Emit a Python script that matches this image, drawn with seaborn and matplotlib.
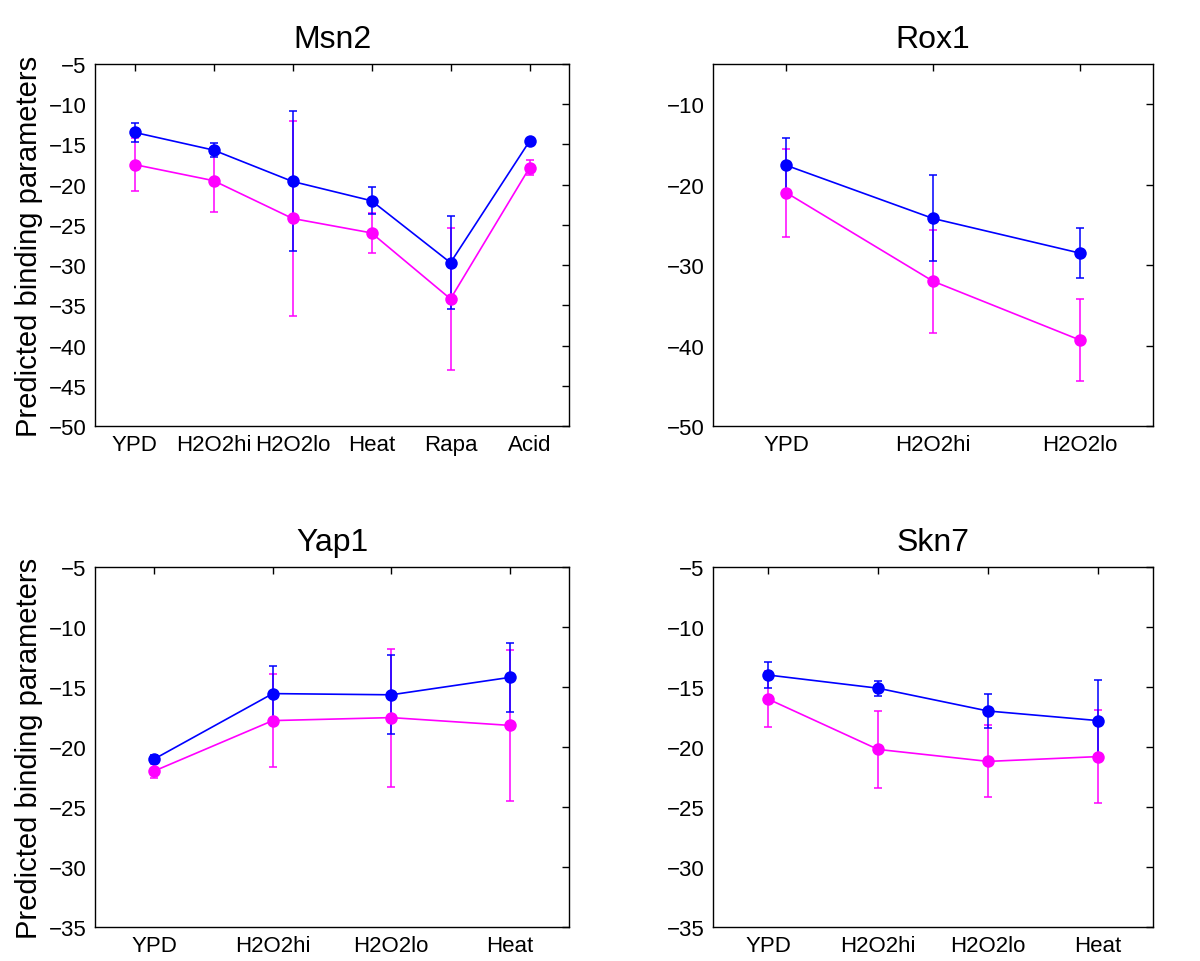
import numpy as np
import pandas as pd
import matplotlib
matplotlib.use("Agg")
import matplotlib.pyplot as plt
import seaborn as sns

sns.set_theme(style="white")
plt.rcParams['font.family'] = ['Liberation Sans', 'DejaVu Sans']
plt.rcParams['text.color'] = 'black'
plt.rcParams['axes.labelcolor'] = 'black'

# ---- data ----
msn2_labels = ["YPD", "H2O2hi", "H2O2lo", "Heat", "Rapa", "Acid"]
msn2_blue = [-13.5, -15.7, -19.6, -22.0, -29.7, -14.6]
msn2_blue_err = [1.15, 0.85, 8.7, 1.7, 5.8, 0.2]
msn2_pink = [-17.5, -19.5, -24.2, -26.0, -34.2, -17.9]
msn2_pink_err = [3.3, 3.9, 12.1, 2.45, 8.8, 0.95]

rox1_labels = ["YPD", "H2O2hi", "H2O2lo"]
rox1_blue = [-17.6, -24.2, -28.5]
rox1_blue_err = [3.4, 5.35, 3.1]
rox1_pink = [-21.0, -32.0, -39.3]
rox1_pink_err = [5.45, 6.4, 5.1]

yap1_labels = ["YPD", "H2O2hi", "H2O2lo", "Heat"]
yap1_blue = [-21.0, -15.55, -15.65, -14.2]
yap1_blue_err = [0.3, 2.28, 3.3, 2.9]
yap1_pink = [-22.0, -17.8, -17.55, -18.2]
yap1_pink_err = [0.55, 3.9, 5.75, 6.3]

skn7_labels = ["YPD", "H2O2hi", "H2O2lo", "Heat"]
skn7_blue = [-14.0, -15.1, -17.0, -17.8]
skn7_blue_err = [1.1, 0.62, 1.4, 3.35]
skn7_pink = [-16.0, -20.2, -21.2, -20.8]
skn7_pink_err = [2.3, 3.2, 3.0, 3.85]

titles = ["Msn2", "Rox1", "Yap1", "Skn7"]
ylims = [(-50, -5), (-50, -5), (-35, -5), (-35, -5)]
yticks = [np.arange(-50, -4, 5), np.arange(-50, -4, 10), np.arange(-35, -4, 5), np.arange(-35, -4, 5)]

panels = [
    (msn2_labels, msn2_blue, msn2_blue_err, msn2_pink, msn2_pink_err),
    (rox1_labels, rox1_blue, rox1_blue_err, rox1_pink, rox1_pink_err),
    (yap1_labels, yap1_blue, yap1_blue_err, yap1_pink, yap1_pink_err),
    (skn7_labels, skn7_blue, skn7_blue_err, skn7_pink, skn7_pink_err),
]

positions = [
    [95/1200, 1-427/962, 474/1200, 362/962],
    [713/1200, 1-427/962, 440/1200, 362/962],
    [95/1200, 1-928/962, 474/1200, 360/962],
    [713/1200, 1-928/962, 440/1200, 360/962],
]

BLUE = (0, 0, 1)
PINK = (1, 0, 1)

fig = plt.figure(figsize=(12, 9.62), dpi=100)
for i, (labels, b, be, p, pe) in enumerate(panels):
    ax = fig.add_axes(positions[i])
    x = np.arange(1, len(labels) + 1)
    df = pd.DataFrame({"x": np.concatenate([x, x]),
                       "y": np.concatenate([b, p]),
                       "s": ["blue"] * len(x) + ["pink"] * len(x)})
    ax.errorbar(x, p, yerr=pe, fmt='none', ecolor=PINK, elinewidth=1.1, capsize=3, capthick=1.1, zorder=2)
    ax.errorbar(x, b, yerr=be, fmt='none', ecolor=BLUE, elinewidth=1.1, capsize=3, capthick=1.1, zorder=2)
    sns.lineplot(data=df, x="x", y="y", hue="s", palette={"blue": BLUE, "pink": PINK},
                 marker='o', markersize=9, markeredgewidth=0, linewidth=1.2,
                 legend=False, ax=ax, zorder=3)
    ax.set_xlim(0.5, len(labels) + 0.5)
    ax.set_ylim(*ylims[i])
    ax.set_xticks(x)
    ax.set_xticklabels(labels)
    ax.set_yticks(yticks[i])
    ax.set_yticklabels([f"\u2212{abs(int(v))}" for v in yticks[i]])
    ax.tick_params(direction='in', length=5, width=1, top=True, right=True,
                   labelsize=16, colors='black', pad=6)
    for sp in ax.spines.values():
        sp.set_visible(True)
        sp.set_color('black')
        sp.set_linewidth(1)
    ax.set_xlabel("")
    ax.set_title(titles[i], fontsize=23, pad=12, color='black')
    if i in (0, 2):
        ax.set_ylabel("Predicted binding parameters", fontsize=21, labelpad=4)
    else:
        ax.set_ylabel("")

fig.savefig("out.png", dpi=100, facecolor='white')
